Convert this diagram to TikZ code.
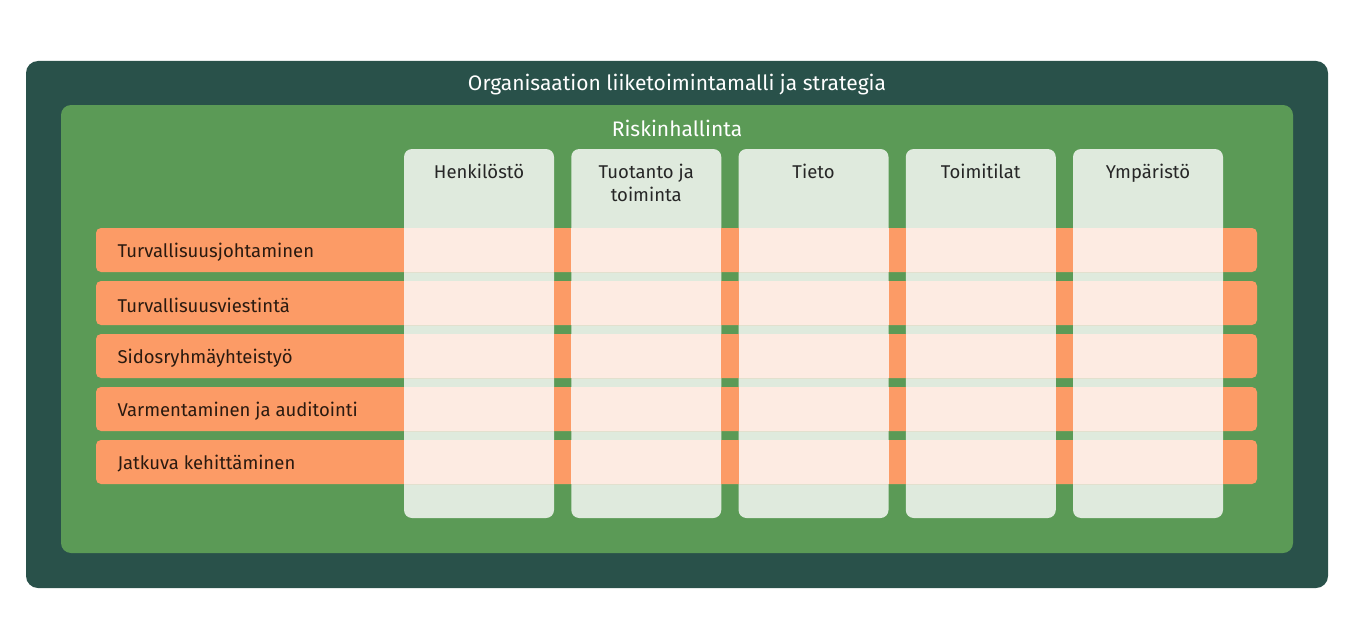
\documentclass[tikz,border=0pt]{standalone}
\usepackage{fontspec}
\setmainfont{Fira Sans}
\definecolor{orgbg}{HTML}{29514A}
\definecolor{riskbg}{HTML}{5B9A56}
\definecolor{colbg}{HTML}{DFEADD}
\definecolor{rowbg}{HTML}{FC9B66}
\definecolor{cellbg}{HTML}{FDEBE2}
\definecolor{rowtxt}{HTML}{2A1A10}

\begin{document}
\begin{tikzpicture}[x=1pt,y=-1pt]
	\tikzstyle{b}=[inner sep=0pt,outer sep=0pt]
	\tikzstyle{orgbox}=[b,fill=orgbg,rounded corners=12pt,minimum width=1302pt,minimum height=527pt]
	\tikzstyle{riskbox}=[b,fill=riskbg,rounded corners=10pt,minimum width=1232pt,minimum height=448pt]
	\tikzstyle{colbox}=[b,fill=colbg,rounded corners=8pt,minimum width=150pt,minimum height=369pt]
	\tikzstyle{rowbox}=[b,fill=rowbg,rounded corners=5pt,minimum width=1161pt,minimum height=44pt]
	\tikzstyle{cell}=[fill=cellbg]
	\tikzstyle{head}=[text=white,font=\fontsize{21}{24}\selectfont]
	\tikzstyle{colhead}=[text=black!85,align=center,font=\fontsize{18.5}{23}\selectfont]
	\tikzstyle{rowlabel}=[text=rowtxt,font=\fontsize{18.5}{22}\selectfont]

	\useasboundingbox[fill=white] (0,0) rectangle (1366,618);

	\node[orgbox] (org) at (677,324.5) {};
	\node[head] (orgtitle) at (677,85) {Organisaation liiketoimintamalli ja strategia};
	\node[riskbox] (risk) at (677,329) {};
	\node[head] (risktitle) at (677,128.5) {Riskinhallinta};

	% sarakkeet
	\foreach \i/\txt in {1/Henkilöstö,2/{Tuotanto ja\\toiminta},3/Tieto,4/Toimitilat,5/Ympäristö}
	{
		\node[colbox] (col\i) at ({479+167.25*(\i-1)},333.5) {};
		\node[colhead,anchor=north] (colhead\i) at ([yshift=-12pt]col\i.north) {\txt};
	}

	% rivit
	\foreach \j/\txt in {1/Turvallisuusjohtaminen,2/Turvallisuusviestintä,3/Sidosryhmäyhteistyö,4/Varmentaminen ja auditointi,5/Jatkuva kehittäminen}
	{
		\node[rowbox] (row\j) at (676.5,{250+53*(\j-1)}) {};
		\node[rowlabel,anchor=west] (rowlabel\j) at ([xshift=18pt,yshift=-2pt]row\j.west) {\txt};
		\foreach \i in {1,...,5}
			\fill[cell] (col\i.west |- row\j.north) rectangle (col\i.east |- row\j.south);
	}
\end{tikzpicture}
\end{document}
